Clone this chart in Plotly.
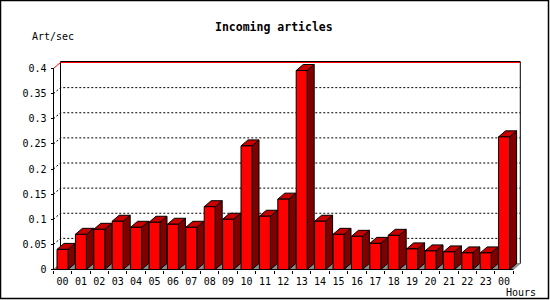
import plotly.graph_objects as go

# ---------------- data ----------------
hours = ["00", "01", "02", "03", "04", "05", "06", "07", "08", "09", "10", "11",
         "12", "13", "14", "15", "16", "17", "18", "19", "20", "21", "22", "23", "00"]
rates = [0.040, 0.070, 0.080, 0.096, 0.084, 0.094, 0.090, 0.084, 0.125, 0.100, 0.246, 0.106,
         0.140, 0.396, 0.096, 0.070, 0.066, 0.052, 0.068, 0.041, 0.037, 0.035, 0.033, 0.033, 0.264]
y_ticks = [0, 0.05, 0.1, 0.15, 0.2, 0.25, 0.3, 0.35, 0.4]
y_tick_text = ["0", "0.05", "0.1", "0.15", "0.2", "0.25", "0.3", "0.35", "0.4"]
grid_values = [0.05, 0.1, 0.15, 0.2, 0.25, 0.3, 0.35]
max_line = 0.4
title_text = "Incoming articles"
y_title = "Art/sec"
x_title = "Hours"

# ---------------- geometry (pixels) ----------------
W, H = 550, 300
L, R, T, B = 47, 526, 55, 277          # plot area in page pixels
PX_X0, PX_STEP = 62.5, 18.4            # first bar centre, bar pitch
PX_Y0, PX_UNIT = 269.5, 502.5          # front zero, pixels per unit


def x_of(px):
    return (px - PX_X0) / PX_STEP


def y_of(py):
    return (PX_Y0 - py) / PX_UNIT


def xp(px):
    return (px - L) / (R - L)


def yp(py):
    return (B - py) / (B - T)


DX = 7.0 / PX_STEP      # 3D depth, x
DY = 6.0 / PX_UNIT      # 3D depth, y
HW = 5.5 / PX_STEP      # half bar width
XA = x_of(53.5)         # front y-axis position
XR = len(hours) - 0.5   # front right end of floor
TOP = max_line + DY + 1.0 / PX_UNIT

FONT = "DejaVu Sans Mono"
FRONT, TOPC, SIDE, FLOOR = "#ff0000", "#c80000", "#800000", "#8c8c8c"

fig = go.Figure()

# floor
fig.add_trace(go.Scatter(x=[XA, XR, XR + DX, XA + DX, XA], y=[0, 0, DY, DY, 0],
                         mode="lines", fill="toself", fillcolor=FLOOR,
                         line=dict(color=FLOOR, width=1), hoverinfo="skip"))

# dotted back-wall grid
gx, gy = [], []
for v in grid_values:
    gx += [XA, XA + DX, XR + DX, None]
    gy += [v, v + DY, v + DY, None]
fig.add_trace(go.Scatter(x=gx, y=gy, mode="lines",
                         line=dict(color="black", width=1, dash="2px,2px"), hoverinfo="skip"))

# back wall outline
fig.add_trace(go.Scatter(x=[XA + DX, XA + DX, XR + DX, XR + DX],
                         y=[DY, TOP, TOP, DY], mode="lines",
                         line=dict(color="black", width=1), hoverinfo="skip"))

# red max line
fig.add_trace(go.Scatter(x=[XA, XA + DX, XR + DX], y=[max_line, max_line + DY, max_line + DY],
                         mode="lines", line=dict(color="#ff0000", width=1), hoverinfo="skip"))

# bars: side, top, front faces
sx, sy, tx, ty, fx, fy = [], [], [], [], [], []
for i, v in enumerate(rates):
    l, r = i - HW, i + HW
    sx += [r, r + DX, r + DX, r, r, None]
    sy += [0, DY, v + DY, v, 0, None]
    tx += [l, r, r + DX, l + DX, l, None]
    ty += [v, v, v + DY, v + DY, v, None]
    fx += [l, r, r, l, l, None]
    fy += [0, 0, v, v, 0, None]
for xs, ys, col in [(sx, sy, SIDE), (tx, ty, TOPC), (fx, fy, FRONT)]:
    fig.add_trace(go.Scatter(x=xs, y=ys, mode="lines", fill="toself", fillcolor=col,
                             line=dict(color="black", width=1), hoverinfo="skip"))

# front axis lines
fig.add_trace(go.Scatter(x=[XA, XA, None, XA, XR], y=[max_line, 0, None, 0, 0], mode="lines",
                         line=dict(color="black", width=1), hoverinfo="skip"))

fig.update_layout(
    width=W, height=H,
    margin=dict(l=L, r=W - R, t=T, b=H - B),
    paper_bgcolor="white", plot_bgcolor="white",
    showlegend=False,
    font=dict(family=FONT, size=10, color="black"),
    xaxis=dict(range=[x_of(L), x_of(R)], showgrid=False, zeroline=False, showline=False,
               anchor="free", position=yp(269.5),
               tickmode="array", tickvals=list(range(len(hours))), ticktext=hours,
               ticks="", ticklabelstandoff=4,
               tickfont=dict(family=FONT, size=10, color="black"),
               minor=dict(tickmode="array", tickvals=[k - 0.5 for k in range(len(hours) + 1)],
                          ticks="outside", ticklen=3, tickcolor="black", tickwidth=1,
                          showgrid=False)),
    yaxis=dict(range=[y_of(B), y_of(T)], showgrid=False, zeroline=False, showline=False,
               anchor="free", position=xp(53.5),
               tickmode="array", tickvals=y_ticks, ticktext=y_tick_text,
               ticks="outside", ticklen=3, tickcolor="black", tickwidth=1,
               ticklabelstandoff=2,
               tickfont=dict(family=FONT, size=10, color="black")),
    annotations=[
        dict(text="<b>" + title_text + "</b>", xref="paper", yref="paper",
             x=xp(274), y=yp(27), xanchor="center", yanchor="middle", showarrow=False,
             font=dict(family=FONT, size=11.5, color="black")),
        dict(text=y_title, xref="paper", yref="paper", x=xp(30), y=yp(37),
             xanchor="left", yanchor="middle", showarrow=False,
             font=dict(family=FONT, size=10, color="black")),
        dict(text=x_title, xref="paper", yref="paper", x=xp(504), y=yp(292),
             xanchor="left", yanchor="middle", showarrow=False,
             font=dict(family=FONT, size=10, color="black")),
    ],
    shapes=[dict(type="rect", xref="paper", yref="paper",
                 x0=xp(0.5), x1=xp(548.5), y0=yp(0.5), y1=yp(298.5),
                 line=dict(color="black", width=1.5), fillcolor="rgba(0,0,0,0)")],
)

fig.write_html("out.html")
